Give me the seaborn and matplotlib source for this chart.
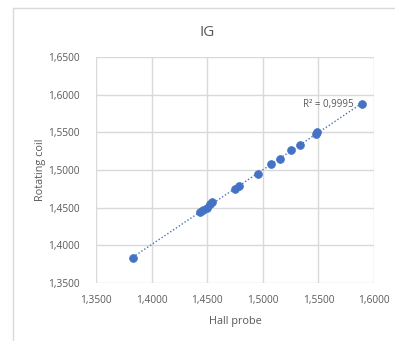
import numpy as np
import pandas as pd
import matplotlib
matplotlib.use("Agg")
import matplotlib.pyplot as plt
import seaborn as sns
from matplotlib.ticker import FuncFormatter, MultipleLocator
from matplotlib.patches import Rectangle

hall_probe = [1.3830, 1.4435, 1.4465, 1.4496, 1.4525, 1.4540, 1.4750, 1.4789,
              1.4954, 1.5071, 1.5152, 1.5256, 1.5334, 1.5478, 1.5484, 1.5895]
rotating_coil = [1.3828, 1.4446, 1.4468, 1.4499, 1.4544, 1.4570, 1.4747, 1.4790,
                 1.4942, 1.5082, 1.5140, 1.5260, 1.5326, 1.5476, 1.5507, 1.5874]
title = "IG"
x_label = "Hall probe"
y_label = "Rotating coil"
r2_label = "R² = 0,9995"

df = pd.DataFrame({"Hall probe": hall_probe, "Rotating coil": rotating_coil})

sns.set_style("white")
plt.rcParams["font.family"] = ["Open Sans", "DejaVu Sans"]

fig = plt.figure(figsize=(3.95, 3.41), dpi=100)
fig.patches.append(Rectangle((13 / 395, -0.05), 1.1, 1 - 8 / 341 + 0.05,
                             transform=fig.transFigure, fill=False,
                             edgecolor="#d9d9d9", linewidth=1.0))
ax = fig.add_axes([96 / 395, 1 - 283 / 341, (374 - 96) / 395, (283 - 57) / 341])

gray = "#595959"
blue = "#4472c4"

# linear trendline fitted to the data
slope, intercept = np.polyfit(df["Hall probe"], df["Rotating coil"], 1)
xs = np.array([df["Hall probe"].min(), df["Hall probe"].max()])
ax.plot(xs, slope * xs + intercept, linestyle=(0, (1, 1.5)), color=blue,
        linewidth=1.0, zorder=2)

sns.scatterplot(data=df, x="Hall probe", y="Rotating coil", ax=ax, color=blue,
                s=32, edgecolor=blue, linewidth=0.5, zorder=3)

ax.set_xlim(1.35, 1.60)
ax.set_ylim(1.35, 1.65)
ax.xaxis.set_major_locator(MultipleLocator(0.05))
ax.yaxis.set_major_locator(MultipleLocator(0.05))
fmt = FuncFormatter(lambda v, p: f"{v:.4f}".replace(".", ","))
ax.xaxis.set_major_formatter(fmt)
ax.yaxis.set_major_formatter(fmt)
ax.grid(True, color="#d9d9d9", linewidth=1.0)
ax.set_axisbelow(True)
for s in ax.spines.values():
    s.set_visible(False)
ax.tick_params(axis="x", length=0, labelsize=7.3, labelcolor=gray, pad=9)
ax.tick_params(axis="y", length=0, labelsize=7.3, labelcolor=gray, pad=12)

ax.set_xlabel(x_label, fontsize=7.8, color=gray, labelpad=7)
ax.set_ylabel(y_label, fontsize=7.8, color=gray, labelpad=1)
fig.text(207 / 395, 1 - 32 / 341, title, fontsize=11, color=gray,
         ha="center", va="center")

ax.text(1.5815, 1.5875, r2_label, fontsize=7, color=gray, ha="right",
        va="center")

fig.savefig("out.png", dpi=100)
